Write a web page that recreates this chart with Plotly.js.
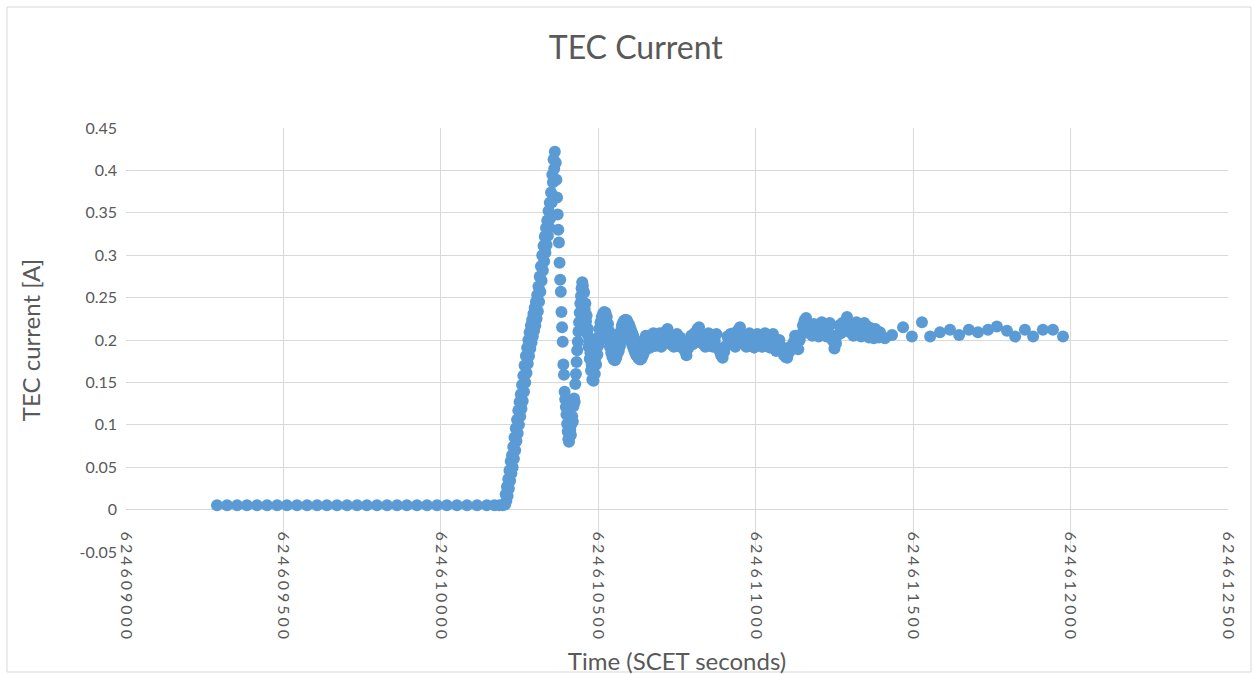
<!DOCTYPE html>
<html>
<head>
<meta charset="utf-8">
<script src="https://cdn.plot.ly/plotly-3.0.1.min.js"></script>
<style>
  html, body { margin:0; padding:0; background:#fff; }
  #chart { width:1254px; height:675px; }
  .xtick text { letter-spacing: 3px; }
</style>
</head>
<body>
<div id="chart"></div>
<script>
// ---- data ----
const flatTime = [624609289, 624609321, 624609353, 624609384, 624609416, 624609448, 624609480, 624609511, 624609543, 624609575,
  624609607, 624609638, 624609670, 624609702, 624609734, 624609765, 624609797, 624609829, 624609861, 624609892,
  624609924, 624609956, 624609988, 624610019, 624610051, 624610083, 624610115, 624610146, 624610170, 624610186, 624610196];
const flatCurrent = [0.005, 0.005, 0.005, 0.005, 0.005, 0.005, 0.005, 0.005, 0.005, 0.005,
  0.005, 0.005, 0.005, 0.005, 0.005, 0.005, 0.005, 0.005, 0.005, 0.005,
  0.005, 0.005, 0.005, 0.005, 0.005, 0.005, 0.005, 0.005, 0.005, 0.005, 0.005];

const rampTime = [624610204, 624610206, 624610208, 624610210, 624610212, 624610214, 624610216, 624610218, 624610220, 624610222,
  624610224, 624610226, 624610228, 624610230, 624610232, 624610234, 624610236, 624610238, 624610240, 624610242,
  624610244, 624610246, 624610248, 624610250, 624610252, 624610254, 624610256, 624610258, 624610260, 624610262,
  624610264, 624610266, 624610268, 624610270, 624610272, 624610274, 624610276, 624610278, 624610280, 624610282,
  624610284, 624610286, 624610288, 624610290, 624610292, 624610294, 624610296, 624610298, 624610300, 624610302,
  624610304, 624610306, 624610308, 624610310, 624610312, 624610314, 624610316, 624610318, 624610320, 624610322,
  624610324, 624610326, 624610328, 624610330, 624610332, 624610334, 624610336, 624610338, 624610340, 624610342,
  624610344, 624610346, 624610348, 624610350, 624610352, 624610354, 624610356, 624610358, 624610360, 624610362];
const rampCurrent = [0.006, 0.018, 0.010, 0.027, 0.016, 0.036, 0.025, 0.046, 0.034, 0.057,
  0.043, 0.064, 0.050, 0.074, 0.060, 0.085, 0.070, 0.096, 0.081, 0.106,
  0.090, 0.117, 0.100, 0.127, 0.110, 0.136, 0.119, 0.147, 0.128, 0.158,
  0.139, 0.170, 0.150, 0.181, 0.161, 0.191, 0.172, 0.200, 0.181, 0.209,
  0.190, 0.217, 0.197, 0.224, 0.204, 0.231, 0.211, 0.238, 0.217, 0.245,
  0.225, 0.253, 0.234, 0.263, 0.245, 0.275, 0.257, 0.287, 0.270, 0.300,
  0.282, 0.311, 0.293, 0.322, 0.303, 0.332, 0.312, 0.341, 0.323, 0.352,
  0.333, 0.362, 0.344, 0.374, 0.362, 0.395, 0.386, 0.413, 0.402, 0.422];

const dropTime = [624610365, 624610367, 624610369, 624610371, 624610373, 624610375, 624610377, 624610379, 624610381, 624610383,
  624610385, 624610387, 624610389, 624610391, 624610393];
const dropCurrent = [0.409, 0.389, 0.368, 0.348, 0.330, 0.315, 0.291, 0.271, 0.257, 0.233,
  0.215, 0.198, 0.171, 0.159, 0.139];

const settleTime = [624610395, 624610397, 624610399, 624610401, 624610403, 624610405, 624610407, 624610409, 624610411, 624610413,
  624610415, 624610417, 624610419, 624610421, 624610423, 624610425, 624610427, 624610429, 624610431, 624610433,
  624610435, 624610437, 624610439, 624610441, 624610443, 624610445, 624610447, 624610449, 624610451, 624610453,
  624610455, 624610457, 624610459, 624610461, 624610463, 624610465, 624610467, 624610469, 624610471, 624610473,
  624610475, 624610477, 624610479, 624610481, 624610483, 624610485, 624610487, 624610489, 624610491, 624610493,
  624610495, 624610497, 624610499, 624610501, 624610503, 624610505, 624610507, 624610509, 624610511, 624610513,
  624610515, 624610517, 624610519, 624610521, 624610523, 624610525, 624610527, 624610529, 624610531, 624610533,
  624610535, 624610537, 624610539, 624610541, 624610543, 624610545, 624610547, 624610549, 624610551, 624610553,
  624610555, 624610557, 624610559, 624610561, 624610563, 624610565, 624610567, 624610569, 624610571, 624610573,
  624610575, 624610577, 624610579, 624610581, 624610583, 624610585, 624610587, 624610589, 624610591, 624610593,
  624610595, 624610597, 624610599, 624610601, 624610603, 624610605, 624610607, 624610609, 624610611, 624610613,
  624610615, 624610617, 624610619, 624610621, 624610623, 624610625, 624610627, 624610629, 624610631, 624610633,
  624610635, 624610637, 624610639, 624610641, 624610643, 624610645, 624610647, 624610649, 624610651];
const settleCurrent = [0.130, 0.121, 0.112, 0.101, 0.092, 0.083, 0.080, 0.086, 0.094, 0.088,
  0.101, 0.110, 0.104, 0.122, 0.131, 0.127, 0.148, 0.160, 0.174, 0.188,
  0.198, 0.210, 0.221, 0.232, 0.243, 0.252, 0.261, 0.268, 0.264, 0.257,
  0.256, 0.236, 0.243, 0.222, 0.229, 0.207, 0.213, 0.192, 0.199, 0.178,
  0.185, 0.164, 0.171, 0.153, 0.165, 0.152, 0.169, 0.160, 0.179, 0.171,
  0.191, 0.183, 0.203, 0.194, 0.213, 0.203, 0.221, 0.210, 0.227, 0.215,
  0.231, 0.218, 0.233, 0.219, 0.232, 0.216, 0.227, 0.209, 0.219, 0.200,
  0.210, 0.192, 0.202, 0.185, 0.196, 0.180, 0.192, 0.177, 0.190, 0.176,
  0.191, 0.179, 0.195, 0.184, 0.201, 0.187, 0.204, 0.193, 0.210, 0.200,
  0.217, 0.203, 0.221, 0.208, 0.223, 0.210, 0.224, 0.210, 0.223, 0.208,
  0.220, 0.204, 0.217, 0.201, 0.213, 0.197, 0.209, 0.193, 0.205, 0.189,
  0.201, 0.185, 0.198, 0.182, 0.195, 0.180, 0.193, 0.178, 0.191, 0.177,
  0.191, 0.178, 0.193, 0.181, 0.197, 0.185, 0.201, 0.189, 0.205];

const bandTime = [624610655, 624610660, 624610665, 624610670, 624610675, 624610680, 624610685, 624610690, 624610695, 624610700,
  624610705, 624610710, 624610715, 624610720, 624610725, 624610730, 624610735, 624610740, 624610745, 624610750,
  624610755, 624610760, 624610765, 624610770, 624610775, 624610780, 624610785, 624610790, 624610795, 624610800,
  624610805, 624610810, 624610815, 624610820, 624610825, 624610830, 624610835, 624610840, 624610845, 624610850,
  624610855, 624610860, 624610865, 624610870, 624610875, 624610880, 624610885, 624610890, 624610895, 624610900,
  624610905, 624610910, 624610915, 624610920, 624610925, 624610930, 624610935, 624610940, 624610945, 624610950,
  624610955, 624610960, 624610965, 624610970, 624610975, 624610980, 624610985, 624610990, 624610995, 624611000,
  624611005, 624611010, 624611015, 624611020, 624611025, 624611030, 624611035, 624611040, 624611045, 624611050,
  624611055, 624611060, 624611065, 624611070, 624611075, 624611080, 624611085, 624611090, 624611095, 624611100,
  624611105, 624611110, 624611115, 624611120, 624611125, 624611130, 624611135, 624611140];
const bandCurrent = [0.196, 0.205, 0.191, 0.201, 0.208, 0.193, 0.204, 0.197, 0.208, 0.192,
  0.203, 0.209, 0.199, 0.213, 0.205, 0.195, 0.204, 0.192, 0.200, 0.207,
  0.193, 0.203, 0.191, 0.199, 0.187, 0.182, 0.190, 0.197, 0.205, 0.195,
  0.208, 0.200, 0.213, 0.215, 0.206, 0.196, 0.204, 0.192, 0.200, 0.208,
  0.193, 0.203, 0.192, 0.199, 0.207, 0.191, 0.187, 0.182, 0.179, 0.186,
  0.193, 0.204, 0.196, 0.207, 0.199, 0.208, 0.192, 0.203, 0.212, 0.215,
  0.206, 0.196, 0.204, 0.192, 0.200, 0.208, 0.193, 0.203, 0.191, 0.199,
  0.207, 0.195, 0.204, 0.192, 0.200, 0.208, 0.193, 0.203, 0.191, 0.199,
  0.207, 0.193, 0.187, 0.191, 0.200, 0.193, 0.187, 0.182, 0.180, 0.179,
  0.185, 0.192, 0.189, 0.197, 0.205, 0.195, 0.189, 0.200];

const highTime = [624611145, 624611150, 624611155, 624611160, 624611165, 624611170, 624611175, 624611180, 624611185, 624611190,
  624611195, 624611200, 624611205, 624611210, 624611215, 624611220, 624611225, 624611230, 624611235, 624611240,
  624611245, 624611250, 624611255, 624611260, 624611265, 624611270, 624611275, 624611280, 624611285, 624611290,
  624611295, 624611300, 624611305, 624611310, 624611315, 624611320, 624611325, 624611330, 624611335, 624611340,
  624611345, 624611350, 624611355, 624611360, 624611365, 624611370, 624611375, 624611380, 624611385, 624611390,
  624611395, 624611400, 624611410];
const highCurrent = [0.207, 0.217, 0.223, 0.226, 0.218, 0.208, 0.216, 0.205, 0.219, 0.209,
  0.217, 0.204, 0.215, 0.221, 0.207, 0.217, 0.204, 0.214, 0.220, 0.205,
  0.199, 0.190, 0.196, 0.206, 0.217, 0.208, 0.220, 0.211, 0.222, 0.227,
  0.220, 0.209, 0.218, 0.205, 0.216, 0.221, 0.207, 0.217, 0.204, 0.215,
  0.220, 0.206, 0.216, 0.203, 0.214, 0.207, 0.202, 0.213, 0.205, 0.203,
  0.209, 0.204, 0.202];

const tailTime = [624611433, 624611468, 624611496, 624611528, 624611554, 624611585, 624611617, 624611646, 624611677, 624611706,
  624611738, 624611766, 624611798, 624611824, 624611855, 624611881, 624611912, 624611944, 624611976];
const tailCurrent = [0.206, 0.215, 0.204, 0.221, 0.204, 0.209, 0.212, 0.206, 0.212, 0.209,
  0.212, 0.216, 0.211, 0.204, 0.212, 0.204, 0.212, 0.212, 0.204];

const xTickVals = [624609000, 624609500, 624610000, 624610500, 624611000, 624611500, 624612000, 624612500];
const xTickLabels = ['624609000', '624609500', '624610000', '624610500', '624611000', '624611500', '624612000', '624612500'];
const yTickVals = [-0.05, 0, 0.05, 0.1, 0.15, 0.2, 0.25, 0.3, 0.35, 0.4, 0.45];
const yTickLabels = ['-0.05', '0', '0.05', '0.1', '0.15', '0.2', '0.25', '0.3', '0.35', '0.4', '0.45'];

// ---- chart ----
const allTime = [].concat(flatTime, rampTime, dropTime, settleTime, bandTime, highTime, tailTime);
const allCurrent = [].concat(flatCurrent, rampCurrent, dropCurrent, settleCurrent, bandCurrent, highCurrent, tailCurrent);

const textColor = '#595959';
const gridColor = '#D9D9D9';

const trace = {
  type: 'scatter',
  mode: 'markers',
  x: allTime,
  y: allCurrent,
  marker: { color: '#5B9BD5', size: 12, line: { width: 0 } },
  hoverinfo: 'x+y'
};

const layout = {
  width: 1254,
  height: 675,
  margin: { l: 126, r: 26, t: 128, b: 123, pad: 0 },
  paper_bgcolor: '#ffffff',
  plot_bgcolor: '#ffffff',
  font: { family: 'Lato, sans-serif', color: textColor },
  showlegend: false,
  title: {
    text: 'TEC Current',
    font: { family: 'Lato, sans-serif', size: 32, color: textColor },
    xref: 'container', x: 0.507, xanchor: 'center',
    yref: 'container', y: 0.929, yanchor: 'middle'
  },
  xaxis: {
    range: [624609000, 624612500],
    tickmode: 'array', tickvals: xTickVals, ticktext: xTickLabels,
    tickangle: 90,
    tickfont: { size: 16, color: textColor },
    showgrid: true, gridcolor: gridColor, gridwidth: 1,
    zeroline: false, showline: false, ticks: '',
    anchor: 'free', position: 0.1,
    ticklabelstandoff: 21,
    title: { text: 'Time (SCET seconds)', font: { size: 24, color: textColor }, standoff: 15 },
    fixedrange: true
  },
  yaxis: {
    range: [-0.05, 0.45],
    tickmode: 'array', tickvals: yTickVals, ticktext: yTickLabels,
    tickfont: { size: 16, color: textColor },
    showgrid: true, gridcolor: gridColor, gridwidth: 1,
    zeroline: false, showline: false, ticks: '',
    ticklabelstandoff: 8,
    title: { text: 'TEC current [A]', font: { size: 24, color: textColor }, standoff: 32 },
    fixedrange: true
  },
  shapes: [{
    type: 'rect', xref: 'paper', yref: 'paper',
    x0: -0.108, x1: 1.0209, y0: -0.283, y1: 1.2854,
    line: { color: gridColor, width: 1 }, fillcolor: 'rgba(0,0,0,0)', layer: 'below'
  }]
};

Plotly.newPlot('chart', [trace], layout, { displayModeBar: false, responsive: false });
</script>
</body>
</html>
